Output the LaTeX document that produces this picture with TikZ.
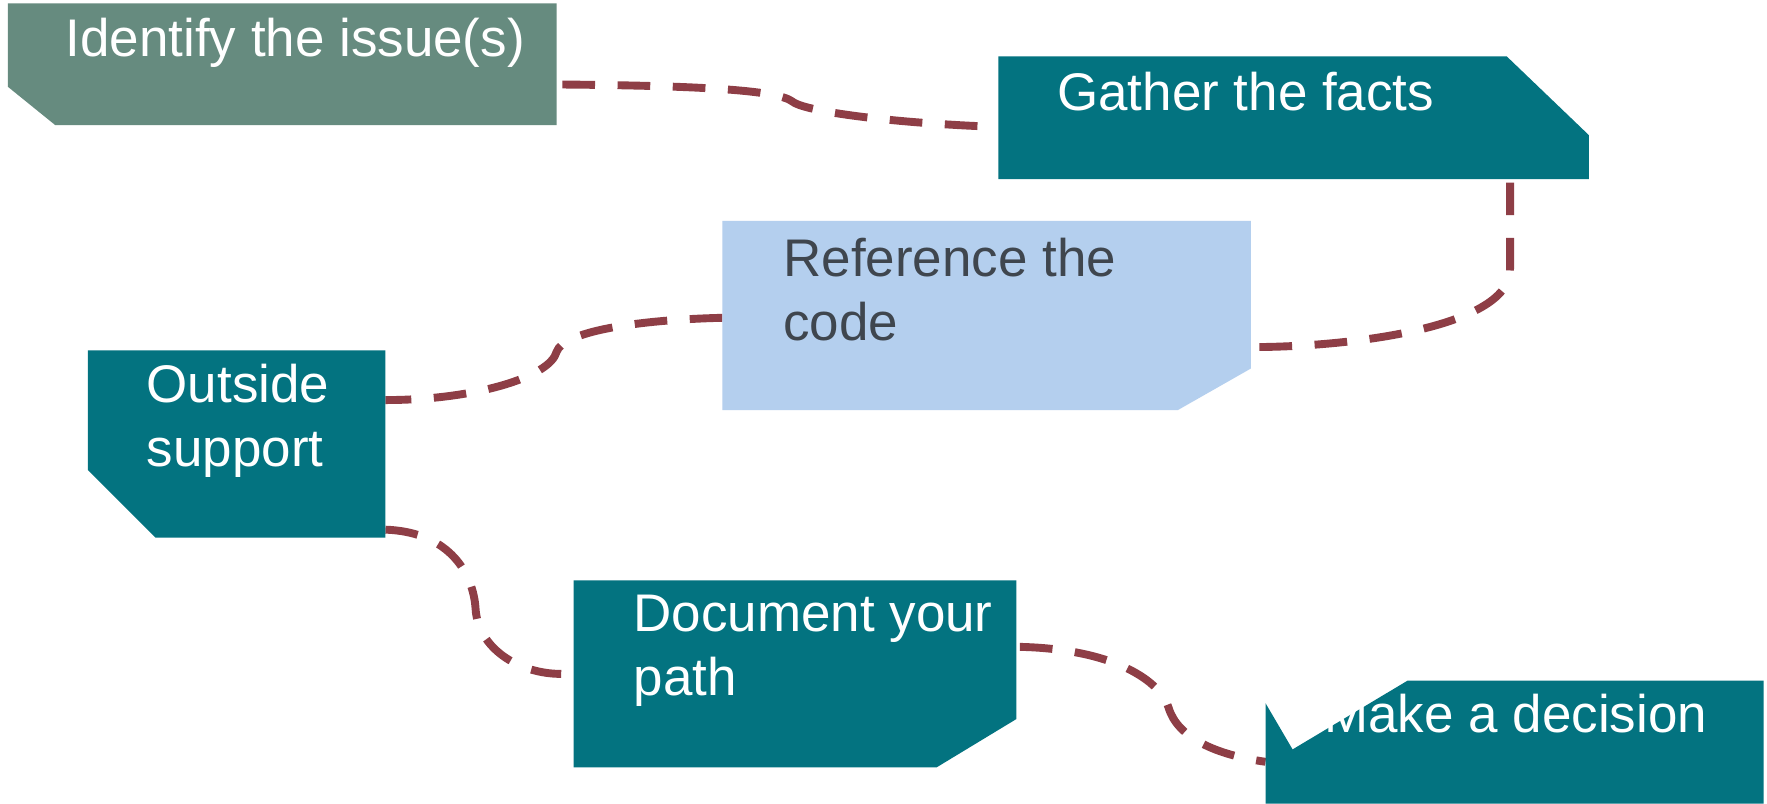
\documentclass[tikz,border=0pt]{standalone}
\usepackage{fontspec}
\setmainfont{Liberation Sans}
\definecolor{tealbox}{HTML}{037380}
\definecolor{sagebox}{HTML}{668B7F}
\definecolor{bluebox}{HTML}{B4CFEE}
\definecolor{connred}{HTML}{8E3E46}
\definecolor{darktext}{HTML}{3F464E}
\begin{document}
\begin{tikzpicture}[x=1pt,y=-1pt,
  lbl/.style={anchor=base west, inner sep=0pt, font=\fontsize{47}{56.5}\selectfont, text=white, align=left},
  conn/.style={draw=connred, line width=7pt, dash pattern=on 29pt off 20pt}]
\useasboundingbox (0,0) rectangle (1568,713);
\fill[white] (0,0) rectangle (1568,713);
% connector end points
\coordinate (idR) at (499,75);
\coordinate (k1) at (703,90);
\coordinate (gaL) at (870,112);
\coordinate (gaB) at (1340,162);
\coordinate (k2) at (1340,238);
\coordinate (reR) at (1110,308);
\coordinate (reL) at (641,282);
\coordinate (k3) at (494,312);
\coordinate (ouR) at (342,355);
\coordinate (ouB) at (342,470);
\coordinate (k4) at (422,540);
\coordinate (doL) at (498,598);
\coordinate (doR) at (905,574);
\coordinate (k5) at (1037,628);
\coordinate (maL) at (1123,676);
% connectors
\draw[conn] (idR) .. controls (620,76) and (690,80) .. (k1) .. controls (712,98) and (780,108) .. (gaL);
\draw[conn] (gaB) -- (k2) .. controls (1342,290) and (1200,308) .. (reR);
\draw[conn] (reL) .. controls (560,284) and (500,295) .. (k3) .. controls (488,335) and (420,355) .. (ouR);
\draw[conn] (ouB) .. controls (400,472) and (420,510) .. (k4) .. controls (424,575) and (460,598) .. (doL);
\draw[conn] (doR) .. controls (990,576) and (1030,605) .. (k5) .. controls (1045,655) and (1080,670) .. (maL);
% boxes
\fill[sagebox] (7,3) -- (494,3) -- (494,111) -- (49,111) -- (7,77) -- cycle;
\fill[tealbox] (886,50) -- (1337,50) -- (1410,120) -- (1410,159) -- (886,159) -- cycle;
\fill[bluebox] (641,196) -- (1110,196) -- (1110,327) -- (1045,364) -- (641,364) -- cycle;
\fill[tealbox] (78,311) -- (342,311) -- (342,477) -- (138,477) -- (78,417) -- cycle;
\fill[tealbox] (509,515) -- (902,515) -- (902,638) -- (831,681) -- (509,681) -- cycle;
\fill[tealbox] (1123,624) -- (1147,665) -- (1249,604) -- (1565,604) -- (1565,713) -- (1123,713) -- cycle;
% labels (base anchor = baseline of the last line)
\node[lbl] (identify) at (58,50) {Identify the issue(s)};
\node[lbl] (gather) at (938,98) {Gather the facts};
\node[lbl, text=darktext] (reference) at (695,302) {Reference the\\code};
\node[lbl] (outside) at (130,414) {Outside\\support};
\node[lbl] (document) at (562,617) {Document your\\path};
\node[lbl] (decision) at (1175,650) {Make a decision};
\end{tikzpicture}
\end{document}
